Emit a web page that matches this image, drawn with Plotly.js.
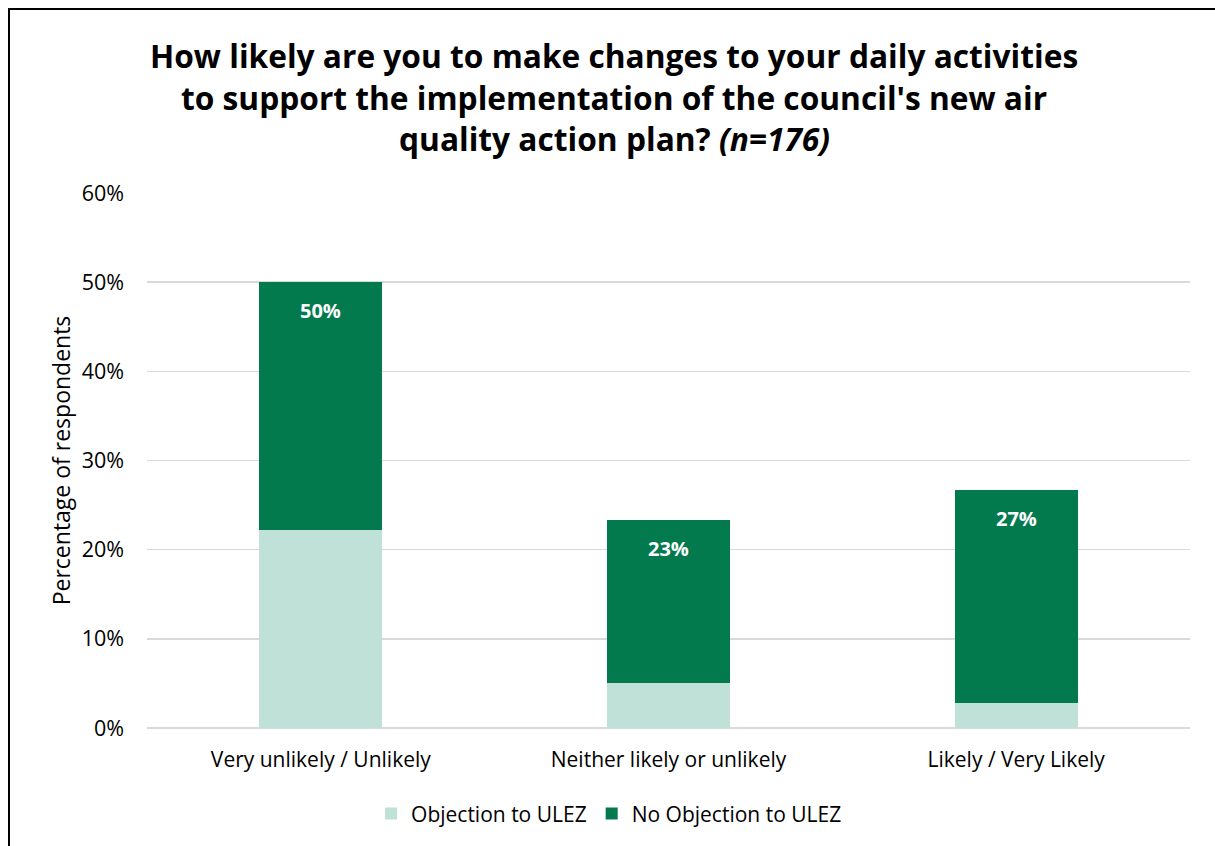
<!DOCTYPE html>
<html>
<head>
<meta charset="utf-8">
<script src="https://cdn.plot.ly/plotly-3.0.1.min.js"></script>
<style>
  html, body { margin: 0; padding: 0; background: #ffffff; }
  #frame { position: absolute; left: 8px; top: 8px; width: 1400px; height: 1000px;
           border-left: 2px solid #000; border-top: 2px solid #000; pointer-events: none; }
  #chart { position: absolute; left: 0; top: 0; width: 1215px; height: 846px; }
</style>
</head>
<body>
<div id="chart"></div>
<div id="frame"></div>
<script>
const categories = ["Very unlikely / Unlikely", "Neither likely or unlikely", "Likely / Very Likely"];
const objection = [22.2, 5.1, 2.8];
const noObjection = [27.8, 18.2, 23.9];
const seriesNames = ["Objection to ULEZ", "No Objection to ULEZ"];
const yTickVals = [0, 10, 20, 30, 40, 50, 60];
const yTickText = ["0%", "10%", "20%", "30%", "40%", "50%", "60%"];
const titleLines = [
  "How likely are you to make changes to your daily activities",
  "to support the implementation of the council's new air",
  "quality action plan? <i>(n=176)</i>"
];

const FONT = "Open Sans, Noto Sans, sans-serif";
const totals = objection.map((v, i) => v + noObjection[i]);

const traces = [
  { type: "bar", name: seriesNames[0], x: categories, y: objection,
    marker: { color: "#C0E1D7" }, hoverinfo: "skip" },
  { type: "bar", name: seriesNames[1], x: categories, y: noObjection,
    marker: { color: "#027A4E" }, hoverinfo: "skip" }
];

const annotations = categories.map((c, i) => ({
  x: c, y: totals[i], xref: "x", yref: "y",
  text: "<b>" + Math.round(totals[i]) + "%</b>",
  showarrow: false, yanchor: "top", yshift: -13,
  font: { family: FONT, size: 20, color: "#ffffff" }
}));

const titleY = [55, 97, 139];
titleLines.forEach((t, i) => {
  annotations.push({
    xref: "paper", yref: "paper",
    x: (614 - 147) / (1190 - 147), y: 1 + (193 - titleY[i]) / 535,
    xanchor: "center", yanchor: "middle",
    text: "<b>" + t + "</b>", showarrow: false,
    font: { family: FONT, size: 31.7, color: "#000000" }
  });
});

const layout = {
  width: 1215, height: 846,
  margin: { l: 147, r: 25, t: 193, b: 118 },
  paper_bgcolor: "rgba(0,0,0,0)", plot_bgcolor: "#ffffff",
  barmode: "stack", bargap: 0.646,
  font: { family: FONT, color: "#000000" },
  showlegend: true,
  legend: { orientation: "h", x: 0.443, xanchor: "center", y: -0.122, yanchor: "top",
            font: { family: FONT, size: 21, color: "#000000" }, traceorder: "normal",
            itemwidth: 30 },
  xaxis: { type: "category", tickfont: { family: FONT, size: 21, color: "#000000" },
           showgrid: false, zeroline: false, showline: false, ticks: "", ticklabelstandoff: 17 },
  yaxis: { range: [0, 60], tickvals: yTickVals, ticktext: yTickText,
           tickfont: { family: FONT, size: 21.5, color: "#000000" },
           showgrid: true, gridcolor: "#D9D9D9", gridwidth: 1.5,
           zeroline: true, zerolinecolor: "#D9D9D9", zerolinewidth: 1.5,
           showline: false, ticks: "", ticklabelstandoff: 22,
           title: { text: "Percentage of respondents", standoff: 4,
                    font: { family: FONT, size: 23, color: "#000000" } } },
  annotations: annotations
};

Plotly.newPlot("chart", traces, layout, { displayModeBar: false, staticPlot: true });
</script>
</body>
</html>
